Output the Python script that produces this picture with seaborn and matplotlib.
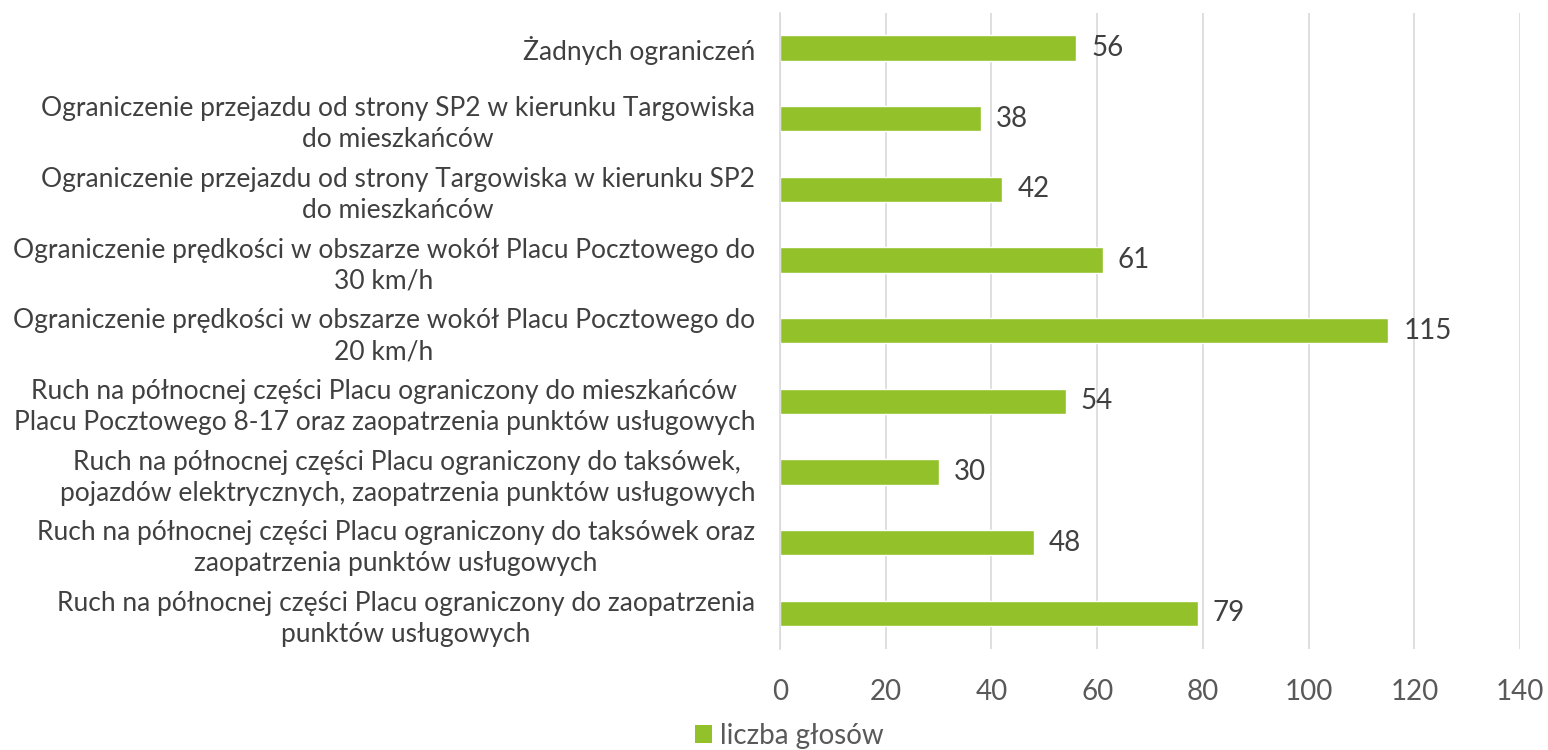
import matplotlib
matplotlib.use("Agg")
import matplotlib.pyplot as plt
import seaborn as sns
import pandas as pd
from matplotlib.patches import Patch

categories = [
    "Żadnych ograniczeń",
    "Ograniczenie przejazdu od strony SP2 w kierunku Targowiska\ndo mieszkańców",
    "Ograniczenie przejazdu od strony Targowiska w kierunku SP2\ndo mieszkańców",
    "Ograniczenie prędkości w obszarze wokół Placu Pocztowego do\n30 km/h",
    "Ograniczenie prędkości w obszarze wokół Placu Pocztowego do\n20 km/h",
    "Ruch na północnej części Placu ograniczony do mieszkańców\nPlacu Pocztowego 8-17 oraz zaopatrzenia punktów usługowych",
    "Ruch na północnej części Placu ograniczony do taksówek,\npojazdów elektrycznych, zaopatrzenia punktów usługowych",
    "Ruch na północnej części Placu ograniczony do taksówek oraz\nzaopatrzenia punktów usługowych",
    "Ruch na północnej części Placu ograniczony do zaopatrzenia\npunktów usługowych",
]
values = [56, 38, 42, 61, 115, 54, 30, 48, 79]
series_name = "liczba głosów"
x_ticks = [0, 20, 40, 60, 80, 100, 120, 140]

sns.set_theme(style="white")
plt.rcParams['font.family'] = ['Lato', 'DejaVu Sans']

df = pd.DataFrame({"cat": categories, "val": values})

fig = plt.figure(figsize=(15.48, 7.5), dpi=100)
ax = fig.add_axes([0.5039, 0.135, 0.982 - 0.5039, 0.848])

green = "#92C12A"
sns.barplot(data=df, y="cat", x="val", color=green, width=0.36, ax=ax,
            saturation=1, orient="h")

ax.set_xlim(0, 140)
ax.set_xticks(x_ticks)
ax.set_xlabel("")
ax.set_ylabel("")
ax.grid(axis="x", color="#D9D9D9", linewidth=1.2)
ax.set_axisbelow(True)
for s in ["top", "right", "bottom"]:
    ax.spines[s].set_visible(False)
ax.spines["left"].set_color("#D9D9D9")
ax.spines["left"].set_linewidth(1.2)

ax.tick_params(axis="x", length=8, color="#D9D9D9", width=1.2, labelsize=20,
               labelcolor="#595959", pad=14)
ax.tick_params(axis="y", length=0, labelsize=19, labelcolor="#404040", pad=18)
for lbl in ax.get_yticklabels():
    lbl.set_horizontalalignment("right")
    lbl.set_multialignment("center")
    lbl.set_linespacing(1.3)

for i, v in enumerate(values):
    ax.annotate(str(v), xy=(v, i), xytext=(11, 0), textcoords="offset points",
                va="center", ha="left", fontsize=20, color="#404040")

handle = Patch(facecolor=green, edgecolor="none")
fig.legend([handle], [series_name], loc="lower center", bbox_to_anchor=(0.51, -0.032),
           frameon=False, fontsize=20, handlelength=0.6, handleheight=0.6,
           handletextpad=0.3, labelcolor="#595959")

fig.savefig("out.png", dpi=100)
